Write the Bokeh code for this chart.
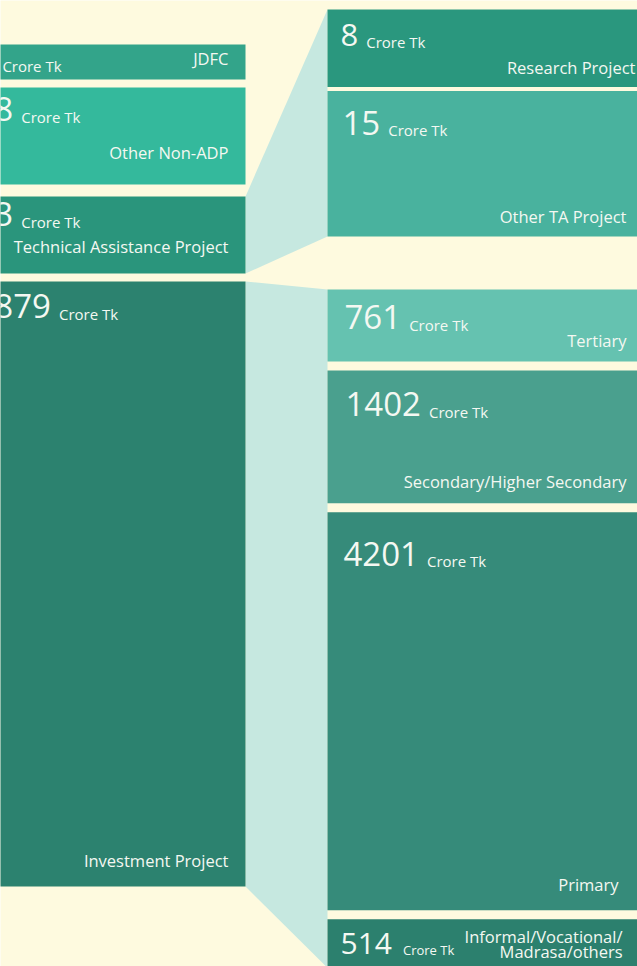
from bokeh.plotting import figure
from bokeh.models import Range1d
from bokeh.core.properties import value
from bokeh.embed import file_html
from bokeh.resources import INLINE

# ---------------- data ----------------
left_names = ["JDFC", "Other Non-ADP", "Technical Assistance Project", "Investment Project"]
left_values = ["5", "18", "23", "6879"]          # leading digits are cut off at the page edge
ta_names = ["Research Project", "Other TA Project"]
ta_values = [8, 15]
inv_names = ["Tertiary", "Secondary/Higher Secondary", "Primary", "Informal/Vocational/|Madrasa/others"]
inv_values = [761, 1402, 4201, 514]
unit = "Crore Tk"

# ---------------- styles / layout ----------------
W, H = 637, 966
BG = "#FEFADF"
LINK = "#C6E8E0"
TXT = "#F4F8F2"
FONT = value("Open Sans")
left_colors = ["#33A48A", "#34B99C", "#2A957C", "#2C826F"]
ta_colors = ["#2A977E", "#49B29E"]
inv_colors = ["#65C2B0", "#4AA08E", "#368B7A", "#2C806E"]

left_x0, left_x1 = -38, 245
right_x0, right_x1 = 327, 700
left_tops = [44, 87, 196, 281]
left_bots = [79, 184, 273, 886]
ta_top, ta_gap = 9, 4
inv_top, inv_gap = 289, 9
ta_scale = (236 - ta_top - ta_gap) / sum(ta_values)   # px per crore
inv_scale = 1 / 10.56

def stack(vals, top, gap, scale):
    tops, bots = [], []
    y = top
    for v in vals:
        tops.append(y)
        bots.append(y + v * scale)
        y = y + v * scale + gap
    return tops, bots

ta_tops, ta_bots = stack(ta_values, ta_top, ta_gap, ta_scale)
inv_tops, inv_bots = stack(inv_values, inv_top, inv_gap, inv_scale)

p = figure(width=W, height=H, output_backend="svg", toolbar_location=None,
           x_range=Range1d(0, W), y_range=Range1d(H, 0),
           min_border=0, background_fill_color=BG, border_fill_color=BG,
           outline_line_color=None)
p.axis.visible = False
p.grid.visible = False

# connectors
p.patches(xs=[[left_x1, right_x0, right_x0, left_x1], [left_x1, right_x0, right_x0, left_x1]],
          ys=[[left_tops[2], ta_tops[0], ta_bots[-1], left_bots[2]],
              [left_tops[3], inv_tops[0], inv_bots[-1], left_bots[3]]],
          fill_color=LINK, line_color=None)

# boxes
p.quad(left=left_x0, right=left_x1, top=left_tops, bottom=left_bots,
       fill_color=left_colors, line_color=None)
p.quad(left=right_x0, right=right_x1, top=ta_tops, bottom=ta_bots,
       fill_color=ta_colors, line_color=None)
p.quad(left=right_x0, right=right_x1, top=inv_tops, bottom=inv_bots,
       fill_color=inv_colors, line_color=None)

DIGIT = 0.572
LAB = 16.5

def put(x, y, s, size, align="left"):
    # y is the wanted baseline; shift to compensate the renderer's baseline placement
    p.text(x=[x], y=[y - 0.4 * size], text=[s], text_font=FONT, text_font_size=f"{size}px",
           text_color=TXT, text_align=align, text_baseline="alphabetic")

def number_block(x, y, num, nsize, usize, gap=8):
    put(x, y, str(num), nsize)
    put(x + len(str(num)) * DIGIT * nsize + gap, y, unit, usize)

# left column
left_num_dy = [27, 35, 31, 38]
left_lab_dy = [14, 25, 20, 19]
for i, name in enumerate(left_names):
    number_block(-25, left_tops[i] + left_num_dy[i], left_values[i], 33, 15)
    put(228, left_bots[i] - left_lab_dy[i], name, LAB, "right")

# right top group
ta_num_x = [340, 342]
ta_num_dy = [38, 45]
ta_lab_dy = [13, 13]
ta_lab_x = [635, 626]
ta_nsize = [31, 33]
for i, name in enumerate(ta_names):
    number_block(ta_num_x[i], ta_tops[i] + ta_num_dy[i], ta_values[i], ta_nsize[i], 15)
    put(ta_lab_x[i], ta_bots[i] - ta_lab_dy[i], name, LAB, "right")

# right bottom group
inv_num_x = [344, 345, 343, 340]
inv_num_dy = [41, 47, 55, 36]
inv_lab_dy = [14, 15, 19, 0]
inv_lab_x = [626, 626, 618, 622]
inv_nsize = [33, 33, 33, 30]
inv_usize = [15, 15, 15, 13]
inv_gap_u = [8, 8, 8, 11]
for i, name in enumerate(inv_names):
    number_block(inv_num_x[i], inv_tops[i] + inv_num_dy[i], inv_values[i],
                 inv_nsize[i], inv_usize[i], inv_gap_u[i])
    lines = name.split("|")
    if len(lines) == 1:
        put(inv_lab_x[i], inv_bots[i] - inv_lab_dy[i], name, LAB, "right")
    else:
        for k, ln in enumerate(lines):
            put(inv_lab_x[i], inv_tops[i] + 24 + 15 * k, ln, LAB, "right")

open("out.html", "w").write(file_html(p, INLINE))
